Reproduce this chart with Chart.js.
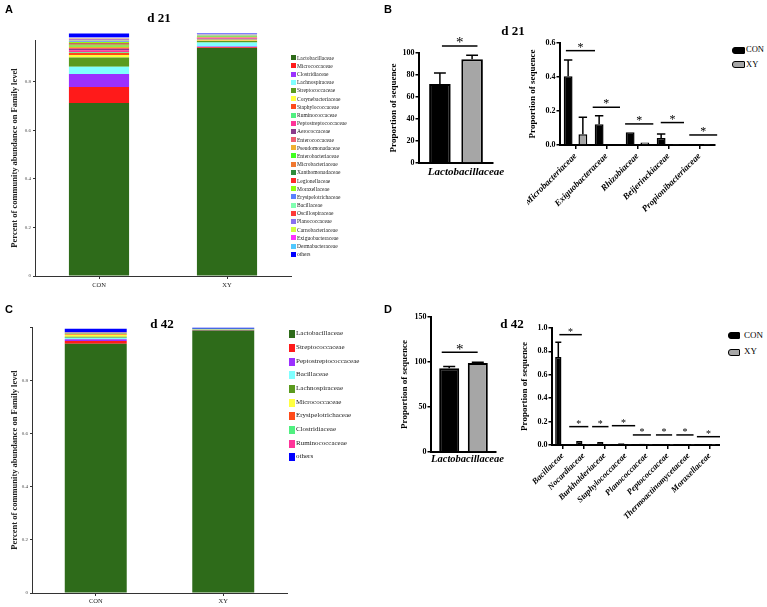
<!DOCTYPE html>
<html><head><meta charset="utf-8">
<script src="https://cdn.jsdelivr.net/npm/chart.js@4/dist/chart.umd.min.js"></script>
<style>
html,body{margin:0;padding:0;background:#fff;}
#wrap{position:relative;width:767px;height:607px;overflow:hidden;font-family:'Liberation Serif',serif;color:#000;}
canvas{position:absolute;}
.t{position:absolute;white-space:nowrap;line-height:1;}
.panel{font-family:'Liberation Sans',Arial,sans-serif;font-weight:bold;font-size:11px;}
.title{font-weight:bold;font-size:13px;transform:translate(-50%,-50%);}
.li{position:absolute;white-space:nowrap;}
.sw{position:absolute;}
</style></head><body><div id="wrap">
<canvas id="cA" width="290" height="300" style="left:10px;top:0px"></canvas>
<canvas id="cC" width="290" height="307" style="left:10px;top:300px"></canvas>
<canvas id="cB1" width="122" height="160" style="left:388px;top:24px"></canvas>
<canvas id="cB2" width="193" height="200" style="left:527px;top:20px"></canvas>
<canvas id="cD1" width="111" height="170" style="left:399px;top:300px"></canvas>
<canvas id="cD2" width="201" height="222" style="left:519px;top:308px"></canvas>
<div class="t panel" style="left:5px;top:4px">A</div>
<div class="t panel" style="left:384px;top:4px">B</div>
<div class="t panel" style="left:5px;top:304px">C</div>
<div class="t panel" style="left:384px;top:304px">D</div>
<div class="t title" style="left:159px;top:17px">d 21</div>
<div class="t title" style="left:513px;top:30px">d 21</div>
<div class="t title" style="left:162px;top:323px">d 42</div>
<div class="t title" style="left:512px;top:323px">d 42</div>
<div id="legA"></div><div id="legC"></div><div id="legB"></div><div id="legD"></div>
</div>
<script>
// ---------- data ----------
const groups = ['CON', 'XY'];

const familiesA = ['Lactobacillaceae','Micrococcaceae','Clostridiaceae','Lachnospiraceae','Streptococcaceae',
 'Corynebacteriaceae','Staphylococcaceae','Ruminococcaceae','Peptostreptococcaceae','Aerococcaceae',
 'Enterococcaceae','Pseudomonadaceae','Enterobacteriaceae','Microbacteriaceae','Xanthomonadaceae',
 'Legionellaceae','Moraxellaceae','Erysipelotrichaceae','Bacillaceae','Oscillospiraceae',
 'Planococcaceae','Carnobacteriaceae','Exiguobacteraceae','Dermabacteraceae','others'];
const colorsA = ['#2E6B1A','#FF1A1A','#9B30FF','#7FFFFF','#5A9A1E',
 '#FFFF40','#FF4A1A','#50F080','#FF3399','#8B3A8B',
 '#F06070','#F0B030','#40FF20','#F07830','#2E8B3A',
 '#FF2A2A','#90FF10','#5A80FF','#80FFB0','#FF3A3A',
 '#8A70F0','#D0FF40','#FF30FF','#50C8FF','#0000FF'];
const conA = [0.713,0.066,0.054,0.030,0.038,0.010,0.008,0.004,0.008,0.005,0.004,0.005,0.005,0.004,0.004,0.003,0.004,0.003,0.003,0.003,0.003,0.002,0.003,0.002,0.016];
const xyA  = [0.940,0.003,0.003,0.017,0.006,0.002,0.003,0.002,0.003,0.002,0.002,0.002,0.002,0.001,0.001,0.001,0.001,0.001,0.001,0.001,0.001,0.001,0.001,0.001,0.002];

const familiesC = ['Lactobacillaceae','Streptococcaceae','Peptostreptococcaceae','Bacillaceae','Lachnospiraceae',
 'Micrococcaceae','Erysipelotrichaceae','Clostridiaceae','Ruminococcaceae','others'];
const colorsC = ['#2E6B1A','#FF1A1A','#9B30FF','#7FFFFF','#5A9A1E','#FFFF40','#FF4A1A','#50F080','#FF3399','#0000FF'];
const conC = [0.9375,0.010,0.006,0.006,0.004,0.007,0.004,0.004,0.002,0.0125];
const xyC  = [0.987,0.001,0.001,0.001,0.001,0.001,0.0005,0.0005,0.0005,0.004];

const seriesNames = ['CON', 'XY'];
const seriesColors = ['#000000', '#A6A6A6'];

const lactoLabel = ['Lactobacillaceae'];
const lactoB_con = [71.8], lactoB_conErr = [10.0];
const lactoB_xy  = [94.4], lactoB_xyErr  = [3.6];
const sigB1 = [{x1:-0.19, x2:0.29, y:106.4}];

const famB = ['Microbacteriaceae','Exiguobacteraceae','Rhizobiaceae','Beijerinckiaceae','Propionibacteriaceae'];
const famB_con = [0.405,0.122,0.075,0.041,0.005];
const famB_conErr = [0.095,0.050,0,0.024,0];
const famB_xy  = [0.063,0.003,0.014,0.006,0.001];
const famB_xyErr = [0.100,0,0,0,0];
const sigB2 = [{x1:-0.31,x2:0.63,y:0.555},{x1:0.555,x2:1.435,y:0.222},{x1:1.60,x2:2.51,y:0.124},{x1:2.75,x2:3.50,y:0.132},{x1:3.67,x2:4.57,y:0.059}];

const lactoD_con = [93.1], lactoD_conErr = [1.8];
const lactoD_xy  = [98.8], lactoD_xyErr  = [1.0];
const sigD1 = [{x1:-0.335, x2:0.218, y:110.9}];

const famD = ['Bacillaceae','Nocardiaceae','Burkholderiaceae','Staphylococcaceae','Planococcaceae','Peptococcaceae','Thermoactinomycetaceae','Moraxellaceae'];
const famD_con = [0.753,0.035,0.025,0.015,0.010,0.005,0.008,0.004];
const famD_conErr = [0.125,0,0,0,0,0,0,0];
const famD_xy  = [0.008,0.003,0.004,0.004,0.002,0.001,0.002,0.001];
const famD_xyErr = [0,0,0,0,0,0,0,0];
const sigD2 = [{x1:-0.15,x2:0.92,y:0.943},{x1:0.32,x2:1.23,y:0.157},{x1:1.41,x2:2.19,y:0.157},{x1:2.35,x2:3.46,y:0.165},
 {x1:3.35,x2:4.21,y:0.086},{x1:4.45,x2:5.22,y:0.086},{x1:5.42,x2:6.24,y:0.086},{x1:6.40,x2:7.51,y:0.071}];

// ---------- plugins ----------
const SERIF = 'Liberation Serif';
Chart.defaults.font.family = SERIF;
Chart.defaults.color = '#000';

const errPlugin = {
  id: 'errbars',
  afterDatasetsDraw(chart, args, opts) {
    const ctx = chart.ctx, y = chart.scales.y;
    ctx.save();
    ctx.strokeStyle = '#000';
    ctx.lineWidth = opts.lw || 1.5;
    chart.data.datasets.forEach((ds, i) => {
      if (!ds.errors) return;
      const meta = chart.getDatasetMeta(i);
      meta.data.forEach((bar, j) => {
        const e = ds.errors[j];
        if (!e) return;
        const yt = y.getPixelForValue(ds.data[j] + e);
        const half = bar.width * (opts.cap || 0.5) / 2;
        ctx.beginPath();
        ctx.moveTo(bar.x, bar.y); ctx.lineTo(bar.x, yt);
        ctx.moveTo(bar.x - half, yt); ctx.lineTo(bar.x + half, yt);
        ctx.stroke();
      });
    });
    ctx.restore();
  }
};
const sigPlugin = {
  id: 'sig',
  afterDatasetsDraw(chart, args, opts) {
    const ctx = chart.ctx, x = chart.scales.x, y = chart.scales.y;
    ctx.save();
    ctx.strokeStyle = '#000'; ctx.fillStyle = '#000';
    ctx.lineWidth = opts.lw || 1.5;
    ctx.font = (opts.star || 12) + 'px "' + SERIF + '"';
    ctx.textAlign = 'center'; ctx.textBaseline = 'alphabetic';
    (opts.lines || []).forEach(l => {
      const x1 = x.getPixelForValue(l.x1), x2 = x.getPixelForValue(l.x2), yy = y.getPixelForValue(l.y);
      ctx.beginPath(); ctx.moveTo(x1, yy); ctx.lineTo(x2, yy); ctx.stroke();
      ctx.fillText('*', (x1 + x2) / 2, yy + (opts.dy || 0));
    });
    ctx.restore();
  }
};

// ---------- stacked charts ----------
function stacked(id, families, colors, con, xy, o) {
  new Chart(document.getElementById(id), {
    type: 'bar',
    data: { labels: groups, datasets: families.map((f, i) => ({
      label: f, data: [con[i], xy[i]], backgroundColor: colors[i], borderWidth: 0,
      barPercentage: o.barPct, categoryPercentage: 1, clip: false })) },
    options: {
      responsive: false, animation: false, layout: { padding: o.pad },
      plugins: { legend: { display: false }, tooltip: { enabled: false } },
      scales: {
        x: { stacked: true,
          grid: { display: true, drawOnChartArea: false, offset: false, tickLength: 3, color: '#333' },
          border: { color: '#333', width: 1 },
          ticks: { font: { family: SERIF, size: 6.5 }, color: '#222', padding: o.xPad },
          afterFit(s) { s.height = o.xH; s.paddingLeft = 0; s.paddingRight = 0; } },
        y: { stacked: true, min: 0, max: o.yMax,
          ticks: { stepSize: 0.2, includeBounds: false, font: { family: SERIF, size: 5 }, color: '#444', padding: 2,
            callback: v => (v >= 1 ? '' : String(v)) },
          grid: { drawOnChartArea: false, tickLength: 2, color: '#333' },
          border: { color: '#333', width: 1 },
          title: { display: true, text: 'Percent of community abundance on Family level',
            font: { family: SERIF, size: 8.5, weight: 'bold' }, color: '#222', padding: 0 },
          afterFit(s) { s.width = o.yW; s.paddingTop = 0; s.paddingBottom = 0; } }
      }
    }
  });
}
stacked('cA', familiesA, colorsA, conA, xyA, { barPct: 0.47, pad: { top: 40, right: 9, left: 0, bottom: 0 }, xH: 24, xPad: 2, yW: 25, yMax: 0.973 });
stacked('cC', familiesC, colorsC, conC, xyC, { barPct: 0.486, pad: { top: 27, right: 13, left: 0, bottom: 0 }, xH: 14, xPad: 1, yW: 22, yMax: 1 });

// ---------- grouped charts ----------
function grouped(id, labels, con, conErr, xy, xyErr, o) {
  new Chart(document.getElementById(id), {
    type: 'bar',
    data: { labels: labels, datasets: [
      { label: seriesNames[0], data: con, errors: conErr, backgroundColor: seriesColors[0], borderColor: '#000',
        borderWidth: o.bw, barPercentage: o.barPct, categoryPercentage: o.catPct },
      { label: seriesNames[1], data: xy, errors: xyErr, backgroundColor: seriesColors[1], borderColor: '#000',
        borderWidth: o.bw, barPercentage: o.barPct, categoryPercentage: o.catPct }
    ] },
    plugins: [errPlugin, sigPlugin],
    options: {
      responsive: false, animation: false, layout: { padding: o.pad },
      plugins: { legend: { display: false }, tooltip: { enabled: false },
        errbars: { cap: o.cap, lw: 1.5 }, sig: { lines: o.sig, star: o.star, dy: o.dy, lw: 1.5 } },
      scales: {
        x: {
          grid: { display: true, drawOnChartArea: false, offset: false, drawTicks: o.xTicks, tickLength: 4, color: '#000', lineWidth: 1.5 },
          border: { color: '#000', width: 2 },
          ticks: { font: { family: SERIF, size: o.xFont, style: 'italic', weight: 'bold' }, color: '#000',
            padding: o.xPad, autoSkip: false, maxRotation: o.rot, minRotation: o.rot, labelOffset: o.labelOffset || 0 },
          afterFit(s) { s.height = o.xH; s.paddingLeft = 0; s.paddingRight = 0; } },
        y: { min: 0, max: o.yMax,
          ticks: { stepSize: o.step, font: { family: SERIF, size: 8, weight: 'bold' }, color: '#000', padding: 1,
            callback: v => (o.dec ? v.toFixed(1) : String(v)) },
          grid: { drawOnChartArea: false, tickLength: 3.5, color: '#000', lineWidth: 1.5 },
          border: { color: '#000', width: 2 },
          title: { display: true, text: 'Proportion of sequence', font: { family: SERIF, size: 9, weight: 'bold' }, color: '#000', padding: 0 },
          afterFit(s) { s.width = o.yW; s.paddingTop = 0; s.paddingBottom = 0; } }
      }
    }
  });
}
grouped('cB1', lactoLabel, lactoB_con, lactoB_conErr, lactoB_xy, lactoB_xyErr,
  { bw: 2, barPct: 0.67, catPct: 0.87, pad: { top: 29, right: 17, left: 0, bottom: 0 }, cap: 0.55, sig: sigB1, star: 15, dy: 1.5,
    xTicks: false, xFont: 11, xPad: 3, rot: 0, labelOffset: 10, xH: 21, yMax: 100, step: 20, dec: false, yW: 31 });
grouped('cB2', famB, famB_con, famB_conErr, famB_xy, famB_xyErr,
  { bw: 1.5, barPct: 0.6, catPct: 0.95, pad: { top: 23, right: 5, left: 0, bottom: 0 }, cap: 0.95, sig: sigB2, star: 12, dy: 0,
    xTicks: true, xFont: 9, xPad: 2, rot: 45, xH: 75, yMax: 0.6, step: 0.2, dec: true, yW: 33 });
grouped('cD1', lactoLabel, lactoD_con, lactoD_conErr, lactoD_xy, lactoD_xyErr,
  { bw: 2, barPct: 0.7, catPct: 0.88, pad: { top: 17, right: 14, left: 0, bottom: 0 }, cap: 0.6, sig: sigD1, star: 15, dy: 2,
    xTicks: false, xFont: 10.5, xPad: 1, rot: 0, labelOffset: 4, xH: 18, yMax: 150, step: 50, dec: false, yW: 32 });
grouped('cD2', famD, famD_con, famD_conErr, famD_xy, famD_xyErr,
  { bw: 1.5, barPct: 0.75, catPct: 0.8, pad: { top: 20, right: 0, left: 0, bottom: 0 }, cap: 0.95, sig: sigD2, star: 10, dy: 0,
    xTicks: true, xFont: 8.5, xPad: 2, rot: 45, xH: 85, yMax: 1.0, step: 0.2, dec: true, yW: 33 });

// ---------- HTML legends ----------
function famLegend(elId, families, colors, o) {
  const el = document.getElementById(elId);
  families.forEach((f, i) => {
    const cy = o.y0 + i * o.dy;
    const sw = document.createElement('div');
    sw.className = 'sw';
    sw.style.cssText = `left:${o.sx}px;top:${cy - o.sh / 2}px;width:${o.sw}px;height:${o.sh}px;background:${colors[i]}`;
    el.appendChild(sw);
    const t = document.createElement('div');
    t.className = 'li';
    t.textContent = f;
    t.style.cssText = `left:${o.tx}px;top:${cy - o.fs * 0.55}px;font-size:${o.fs}px;line-height:${o.fs * 1.1}px;color:#222`;
    el.appendChild(t);
  });
}
famLegend('legA', familiesA, colorsA, { y0: 57.7, dy: 8.19, sx: 290.5, sw: 5, sh: 5, tx: 297, fs: 5.5 });
famLegend('legC', familiesC, colorsC, { y0: 334.3, dy: 13.67, sx: 289.3, sw: 5.3, sh: 8, tx: 296, fs: 7 });

function seriesLegend(elId, o) {
  const el = document.getElementById(elId);
  seriesNames.forEach((n, i) => {
    const cy = o.y0 + i * o.dy;
    const sw = document.createElement('div');
    sw.className = 'sw';
    sw.style.cssText = `left:${o.sx}px;top:${cy - 3.5}px;width:${o.w}px;height:7px;box-sizing:border-box;border:1.5px solid #000;border-radius:3px 1px 1px 3px;background:${seriesColors[i]}`;
    el.appendChild(sw);
    const t = document.createElement('div');
    t.className = 'li';
    t.textContent = n;
    t.style.cssText = `left:${o.tx}px;top:${cy - o.fs * 0.55}px;font-size:${o.fs}px;line-height:${o.fs * 1.1}px`;
    el.appendChild(t);
  });
}
seriesLegend('legB', { y0: 50, dy: 14.3, sx: 731.5, w: 13, tx: 746, fs: 8.5 });
seriesLegend('legD', { y0: 335.7, dy: 16.6, sx: 728.3, w: 12, tx: 744, fs: 9 });
</script>
</body></html>
